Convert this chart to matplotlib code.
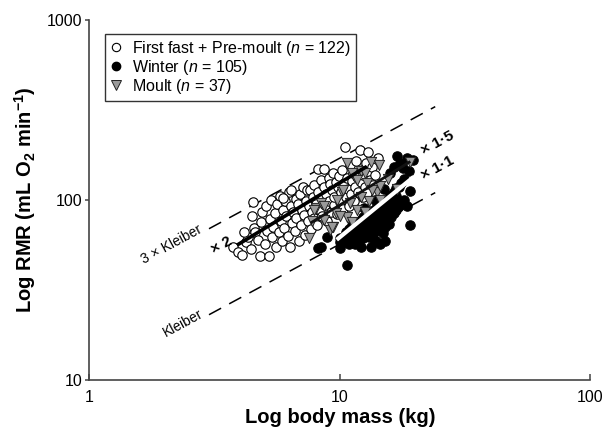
import numpy as np
import matplotlib
matplotlib.use("Agg")
import matplotlib.pyplot as plt
from matplotlib.lines import Line2D

plt.rcParams['font.family'] = ['Liberation Sans', 'DejaVu Sans']
plt.rcParams['mathtext.fontset'] = 'custom'
plt.rcParams['mathtext.rm'] = 'Liberation Sans'
plt.rcParams['mathtext.it'] = 'Liberation Sans:italic'
plt.rcParams['mathtext.bf'] = 'Liberation Sans:bold'

# ---- data (body mass kg, RMR mL O2/min) ----
fast_mass = [3.75, 3.9, 4.05, 4.2, 4.3, 4.4, 4.45, 4.5, 4.55, 4.6,
             4.7, 4.8, 4.85, 4.9, 5.0, 5.05, 5.1, 5.2, 5.25, 5.3,
             5.35, 5.4, 5.5, 5.55, 5.6, 5.7, 5.75, 5.8, 5.85, 5.9,
             6.0, 6.05, 6.1, 6.2, 6.25, 6.3, 6.35, 6.4, 6.45, 6.5,
             6.6, 6.65, 6.7, 6.8, 6.85, 6.9, 7.0, 7.05, 7.1, 7.2,
             7.25, 7.3, 7.4, 7.45, 7.5, 7.6, 7.65, 7.7, 7.8, 7.85,
             7.9, 8.0, 8.1, 8.15, 8.2, 8.3, 8.4, 8.45, 8.5, 8.6,
             8.65, 8.7, 8.8, 8.9, 9.0, 9.05, 9.1, 9.2, 9.3, 9.4,
             9.45, 9.5, 9.6, 9.7, 9.8, 9.9, 10.0, 10.1, 10.2, 10.3,
             10.4, 10.5, 10.6, 10.7, 10.8, 10.9, 11.0, 11.1, 11.2, 11.3,
             11.4, 11.5, 11.6, 11.7, 11.8, 12.0, 12.1, 12.2, 12.3, 12.4,
             12.6, 12.7, 12.8, 12.9, 13.0, 13.2, 13.4, 13.6, 13.8, 14.2,
             4.15, 5.95]
fast_rmr = [55, 51, 49.5, 58, 62, 53, 81, 97, 70, 66,
            60, 49, 75, 86, 57, 92, 67, 48.5, 78, 100,
            62, 71, 84, 55, 95, 66, 105, 76, 59, 88,
            70, 98, 81, 63, 110, 55, 92, 114, 74, 86,
            67, 101, 79, 95, 59, 108, 72, 88, 117, 82,
            64, 99, 113, 76, 92, 114, 69, 86, 104, 121,
            79, 95, 72, 110, 149, 88, 128, 101, 81, 148,
            117, 93, 107, 76, 132, 99, 122, 86, 113, 140,
            94, 104, 126, 83, 118, 135, 97, 110, 146, 89,
            124, 195, 103, 132, 115, 92, 156, 107, 127, 141,
            98, 118, 165, 134, 110, 190, 125, 147, 104, 137,
            118, 160, 109, 183, 142, 128, 152, 121, 138, 170,
            66, 102]

winter_mass = [10.0, 10.0, 10.3, 10.6, 10.6, 10.9, 10.9, 10.9,
               11.2, 11.2, 11.2, 11.5, 11.5, 11.5, 11.5, 11.8, 11.8, 11.8,
               12.1, 12.1, 12.1, 12.1, 12.4, 12.4, 12.4, 12.4,
               12.7, 12.7, 12.7, 13.0, 13.0, 13.0, 13.0,
               13.3, 13.3, 13.3, 13.3, 13.3, 13.6, 13.6, 13.6, 13.6,
               13.9, 13.9, 13.9, 13.9, 13.9, 14.2, 14.2, 14.2,
               14.5, 14.5, 14.5, 14.5, 14.5, 14.8, 14.8, 14.8, 14.8,
               15.1, 15.1, 15.1, 15.1, 15.1, 15.4, 15.4, 15.4,
               15.7, 15.7, 15.7, 15.7, 16.0, 16.0, 16.0,
               16.4, 16.4, 16.4, 16.8, 16.8, 16.8, 17.2, 17.2,
               17.6, 17.6, 18.0, 18.0, 18.5, 19.0,
               16.9, 17.3, 19.6, 17.8, 18.5, 15.8, 16.5,
               12.5, 13.8, 15.0, 18.8,
               10.7, 8.2, 8.4, 19.0, 10.0, 8.9]
winter_rmr = [58, 61, 60, 58, 66, 57, 62, 69,
              60, 65, 72, 57, 63, 70, 75, 60, 67, 73,
              55, 64, 71, 77, 61, 68, 75, 80,
              66, 73, 79, 62, 70, 77, 83,
              55, 66, 74, 82, 87, 61, 70, 79, 85,
              59, 67, 76, 84, 90, 72, 81, 88,
              57, 69, 79, 87, 93, 65, 75, 85, 92,
              59, 71, 82, 91, 97, 79, 89, 99,
              73, 85, 96, 103, 80, 92, 106,
              84, 98, 110, 88, 105, 116, 92, 118,
              95, 124, 100, 130, 92, 112,
              174, 160, 167, 150, 170, 140, 152,
              90, 100, 115, 145,
              43.5, 54, 55, 72.5, 54, 62]

moult_mass = [7.5, 9.16, 8.6, 8.0, 8.4, 9.4, 9.6, 10.7, 11.2, 10.2,
              11.7, 12.1, 12.6, 11.2, 12.1, 12.8, 13.3, 14.3, 14.1, 16.9,
              19.1, 10.3, 9.7, 8.6, 7.9, 11.0, 11.7, 10.7, 14.5, 14.5,
              13.4, 9.3, 10.0, 7.7, 12.6, 15.5, 13.0]
moult_rmr = [61.2, 68, 77.4, 90, 96, 71, 84, 80.7, 75.7, 111,
             88, 104, 86, 141, 144, 124, 163, 156, 111, 115,
             163, 114, 100, 92, 88, 96, 129, 160, 119, 100,
             114, 71, 81, 76, 140, 130, 98]

# fitted lines (start, end), labelled as multiples of Kleiber
line2_mass, line2_rmr = [3.88, 12.8], [56, 153]
line15_mass, line15_rmr = [7.62, 19.1], [74.2, 163]
line11_mass, line11_rmr = [9.7, 19.7], [60, 134]

# Kleiber reference: 10.1 * M^0.75 mL O2/min, drawn over this mass range
kleiber_coef = 10.1
kleiber_exp = 0.75
kleiber_mass = np.array([3.0, 24.0])

fig = plt.figure(figsize=(6.07, 4.29), dpi=100)
ax = fig.add_axes([0.1474, 0.1142, 0.8254, 0.8403])
ax.set_xscale('log')
ax.set_yscale('log')
ax.set_xlim(1, 100)
ax.set_ylim(10, 1000)

dash = (0, (9, 6))
ax.plot(kleiber_mass, kleiber_coef * kleiber_mass ** kleiber_exp,
        color='black', lw=1.1, ls=dash, zorder=1)
ax.plot(kleiber_mass, 3 * kleiber_coef * kleiber_mass ** kleiber_exp,
        color='black', lw=1.1, ls=dash, zorder=1)

ax.scatter(fast_mass, fast_rmr, s=46, facecolor='white', edgecolor='black',
           linewidth=0.8, zorder=2)
ax.scatter(winter_mass, winter_rmr, s=46, facecolor='black', edgecolor='black',
           linewidth=0.8, zorder=3)
ax.scatter(moult_mass, moult_rmr, s=54, marker='v', facecolor='#9a9a9a',
           edgecolor='#222222', linewidth=0.7, zorder=4)

ax.plot(line2_mass, line2_rmr, color='black', lw=2.6, zorder=5,
        solid_capstyle='butt')
ax.plot(line15_mass, line15_rmr, color='#111111', lw=2.0, zorder=5,
        solid_capstyle='butt')
ax.plot(line11_mass, line11_rmr, color='white', lw=3.0, zorder=5,
        solid_capstyle='butt')

rot = 28.5
ax.text(2.13, 56.2, '3 × Kleiber', rotation=rot, rotation_mode='anchor',
        ha='center', va='center', fontsize=10)
ax.text(2.37, 20.7, 'Kleiber', rotation=rot, rotation_mode='anchor',
        ha='center', va='center', fontsize=10)
ax.text(3.38, 56.2, '× 2', rotation=rot, rotation_mode='anchor',
        ha='center', va='center', fontsize=11, fontweight='bold')
ax.text(24.5, 206, '× 1·5', rotation=rot, rotation_mode='anchor',
        ha='center', va='center', fontsize=11, fontweight='bold')
ax.text(24.5, 150, '× 1·1', rotation=rot, rotation_mode='anchor',
        ha='center', va='center', fontsize=11, fontweight='bold')

for side in ['top', 'right']:
    ax.spines[side].set_visible(False)
for side in ['left', 'bottom']:
    ax.spines[side].set_color('#444444')
    ax.spines[side].set_linewidth(1.2)

ax.set_xticks([1, 10, 100])
ax.set_xticklabels(['1', '10', '100'])
ax.set_yticks([10, 100, 1000])
ax.set_yticklabels(['10', '100', '1000'])
ax.minorticks_off()
ax.tick_params(axis='x', direction='in', length=4, width=1.1, color='#444444',
               labelsize=11.5, pad=7)
ax.tick_params(axis='y', direction='out', length=3, width=1.1, color='#444444',
               labelsize=11.5, pad=2)

ax.set_xlabel('Log body mass (kg)', fontsize=14.5, fontweight='bold')
ax.set_ylabel(r'Log RMR (mL O$_{\mathbf{2}}$ min$^{\mathbf{-1}}$)',
              fontsize=14.5, fontweight='bold')
ax.xaxis.set_label_coords(0.5, -0.078)
ax.yaxis.set_label_coords(-0.103, 0.5)

handles = [
    Line2D([], [], ls='none', marker='o', markersize=6, markerfacecolor='white',
           markeredgecolor='black', markeredgewidth=0.8),
    Line2D([], [], ls='none', marker='o', markersize=6, markerfacecolor='black',
           markeredgecolor='black'),
    Line2D([], [], ls='none', marker='v', markersize=7, markerfacecolor='#9a9a9a',
           markeredgecolor='#222222', markeredgewidth=0.7),
]
labels = [r'First fast + Pre-moult ($n$ = 122)', r'Winter ($n$ = 105)',
          r'Moult ($n$ = 37)']
leg = ax.legend(handles, labels, loc='upper left', bbox_to_anchor=(0.031, 0.96),
                fontsize=11.5, frameon=True, fancybox=False, handlelength=0.8,
                handletextpad=0.6, borderpad=0.3, labelspacing=0.0,
                borderaxespad=0)
leg.get_frame().set_edgecolor('black')
leg.get_frame().set_linewidth(1.0)

fig.savefig('out.png', dpi=100)
